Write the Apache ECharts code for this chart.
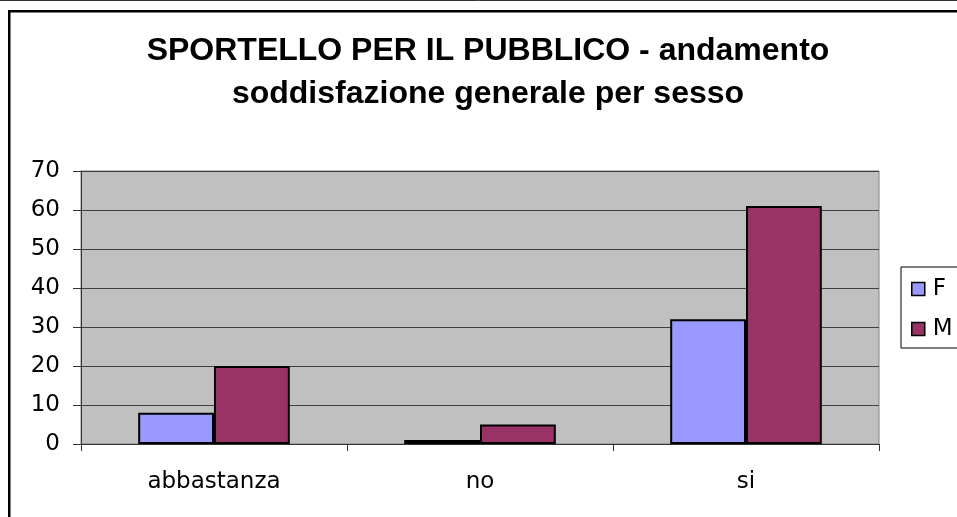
<!DOCTYPE html>
<html>
<head>
<meta charset="utf-8">
<script src="https://cdn.jsdelivr.net/npm/echarts@6/dist/echarts.min.js"></script>
<style>
html,body{margin:0;padding:0;background:#fff;}
#chart{width:957px;height:517px;}
</style>
</head>
<body>
<div id="chart"></div>
<script>
const titleLines = ['SPORTELLO PER IL PUBBLICO - andamento', 'soddisfazione generale per sesso'];
const categories = ['abbastanza', 'no', 'si'];
const seriesNames = ['F', 'M'];
const valuesF = [8, 1, 32];
const valuesM = [20, 5, 61];
const yMin = 0, yMax = 70, yStep = 10;

const chart = echarts.init(document.getElementById('chart'), null, {renderer: 'canvas'});
const labelFont = 'DejaVu Sans';
chart.setOption({
  animation: false,
  backgroundColor: '#ffffff',
  title: {
    text: titleLines.join('\n'),
    left: 488,
    textAlign: 'center',
    top: 30,
    padding: 0,
    textStyle: {
      fontFamily: 'Liberation Sans, Arial',
      fontSize: 32,
      fontWeight: 'bold',
      color: '#000',
      lineHeight: 43
    }
  },
  legend: {
    orient: 'vertical',
    left: 901,
    top: 267,
    padding: [10, 40, 7, 10],
    itemGap: 16,
    itemWidth: 13,
    itemHeight: 13,
    icon: 'rect',
    borderColor: '#000',
    borderWidth: 1,
    backgroundColor: '#fff',
    itemStyle: {borderColor: '#000', borderWidth: 1.5},
    textStyle: {fontFamily: labelFont, fontSize: 23, lineHeight: 24, color: '#000', padding: [0, 0, 0, 3]},
    data: seriesNames
  },
  grid: {
    left: 81, right: 78, top: 171, bottom: 73,
    show: true,
    backgroundColor: '#C0C0C0',
    borderColor: '#808080',
    borderWidth: 1
  },
  xAxis: {
    type: 'category',
    data: categories,
    boundaryGap: true,
    axisLine: {show: true, lineStyle: {color: '#333', width: 1}},
    axisTick: {show: true, length: 7, interval: 0, alignWithLabel: false, lineStyle: {color: '#333'}},
    axisLabel: {fontFamily: labelFont, fontSize: 23, color: '#000', margin: 27, interval: 0}
  },
  yAxis: {
    type: 'value',
    min: yMin, max: yMax, interval: yStep,
    axisLine: {show: true, lineStyle: {color: '#333', width: 1}},
    axisTick: {show: true, length: 8, lineStyle: {color: '#333'}},
    axisLabel: {fontFamily: labelFont, fontSize: 23, color: '#000', margin: 21},
    splitLine: {show: true, lineStyle: {color: '#404040', width: 1}}
  },
  series: [
    {
      name: seriesNames[0], type: 'bar', data: valuesF,
      barWidth: '28.5%', barGap: '0%',
      itemStyle: {color: '#9999FF', borderColor: '#000', borderWidth: 2}
    },
    {
      name: seriesNames[1], type: 'bar', data: valuesM,
      barWidth: '28.5%', barGap: '0%',
      itemStyle: {color: '#993366', borderColor: '#000', borderWidth: 2}
    }
  ],
  graphic: [
    {type: 'line', shape: {x1: 0, y1: 0.5, x2: 957, y2: 0.5}, style: {stroke: '#333', lineWidth: 1}, z: 100},
    {type: 'rect', shape: {x: 9.25, y: 11.25, width: 1100, height: 1000}, style: {fill: 'none', stroke: '#000', lineWidth: 2.5}, z: 100}
  ]
});
</script>
</body>
</html>
